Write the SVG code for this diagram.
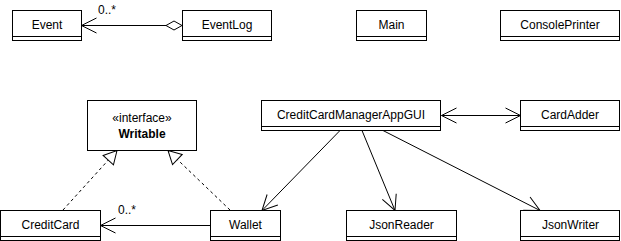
<svg xmlns="http://www.w3.org/2000/svg" width="621" height="241" viewBox="0 0 621 241">
  <style>
    .box { fill: #ffffff; stroke: #000000; stroke-width: 1; }
    .sep { stroke: #000000; stroke-width: 1; fill: none; }
    .lbl { font-family: "Liberation Sans", Arial, sans-serif; font-size: 12px; fill: #000000; text-anchor: middle; }
    .bold { font-weight: bold; }
    .mult { font-family: "Liberation Sans", Arial, sans-serif; font-size: 12px; fill: #000000; }
    .edge { stroke: #000000; stroke-width: 1; fill: none; }
    .dashed { stroke-dasharray: 3 3; }
  </style>
  <defs>
    <marker id="open" markerUnits="userSpaceOnUse" viewBox="-16 -9 18 18" markerWidth="18" markerHeight="18" refX="0" refY="0" orient="auto-start-reverse">
      <path d="M-15,-7.5 L0,0 L-15,7.5" fill="none" stroke="#000000" stroke-width="1"/>
    </marker>
    <marker id="hollow" markerUnits="userSpaceOnUse" viewBox="-15 -9 17 18" markerWidth="17" markerHeight="18" refX="0" refY="0" orient="auto">
      <path d="M-13,-7 L0,0 L-13,7 Z" fill="#ffffff" stroke="#000000" stroke-width="1"/>
    </marker>
  </defs>

  <!-- connectors -->
  <g id="connectors">
    <!-- EventLog aggregates Event -->
    <line class="edge" x1="166" y1="25.5" x2="81.5" y2="25.5" marker-end="url(#open)"/>
    <polygon points="182,25.5 174,21 166,25.5 174,30" fill="#ffffff" stroke="#000000" stroke-width="1"/>
    <text class="mult" x="98" y="14">0..*</text>

    <!-- realizations of Writable -->
    <line class="edge dashed" x1="63" y1="210" x2="117" y2="150.5" marker-end="url(#hollow)"/>
    <line class="edge dashed" x1="230" y1="210" x2="168" y2="150.5" marker-end="url(#hollow)"/>

    <!-- Wallet holds CreditCards -->
    <line class="edge" x1="210.5" y1="225.5" x2="100.5" y2="225.5" marker-end="url(#open)"/>
    <text class="mult" x="118" y="214">0..*</text>

    <!-- GUI <-> CardAdder -->
    <line class="edge" x1="441.5" y1="115.5" x2="520.5" y2="115.5" marker-start="url(#open)" marker-end="url(#open)"/>

    <!-- GUI dependencies -->
    <line class="edge" x1="340" y1="130.5" x2="262" y2="210.5" marker-end="url(#open)"/>
    <line class="edge" x1="362" y1="130.5" x2="395" y2="210.5" marker-end="url(#open)"/>
    <line class="edge" x1="383" y1="130.5" x2="540" y2="210.5" marker-end="url(#open)"/>
  </g>

  <!-- classes -->
  <g id="Event">
    <rect class="box" x="12.5" y="10.5" width="69" height="30"/>
    <line class="sep" x1="12.5" y1="36.5" x2="81.5" y2="36.5"/>
    <text class="lbl" x="47" y="29">Event</text>
  </g>
  <g id="EventLog">
    <rect class="box" x="182.5" y="10.5" width="89" height="30"/>
    <line class="sep" x1="182.5" y1="36.5" x2="271.5" y2="36.5"/>
    <text class="lbl" x="227" y="29">EventLog</text>
  </g>
  <g id="Main">
    <rect class="box" x="356.5" y="10.5" width="70" height="30"/>
    <line class="sep" x1="356.5" y1="36.5" x2="426.5" y2="36.5"/>
    <text class="lbl" x="391.5" y="29">Main</text>
  </g>
  <g id="ConsolePrinter">
    <rect class="box" x="500.5" y="10.5" width="119" height="30"/>
    <line class="sep" x1="500.5" y1="36.5" x2="619.5" y2="36.5"/>
    <text class="lbl" x="560" y="29">ConsolePrinter</text>
  </g>
  <g id="Writable">
    <rect class="box" x="87.5" y="100.5" width="109" height="50"/>
    <text class="lbl" x="142" y="122">«interface»</text>
    <text class="lbl bold" x="142" y="138">Writable</text>
  </g>
  <g id="CreditCardManagerAppGUI">
    <rect class="box" x="261.5" y="100.5" width="179" height="30"/>
    <line class="sep" x1="261.5" y1="126.5" x2="440.5" y2="126.5"/>
    <text class="lbl" x="351" y="119">CreditCardManagerAppGUI</text>
  </g>
  <g id="CardAdder">
    <rect class="box" x="520.5" y="100.5" width="99" height="30"/>
    <line class="sep" x1="520.5" y1="126.5" x2="619.5" y2="126.5"/>
    <text class="lbl" x="570" y="119">CardAdder</text>
  </g>
  <g id="CreditCard">
    <rect class="box" x="0.5" y="210.5" width="100" height="30"/>
    <line class="sep" x1="0.5" y1="236.5" x2="100.5" y2="236.5"/>
    <text class="lbl" x="50.5" y="229">CreditCard</text>
  </g>
  <g id="Wallet">
    <rect class="box" x="210.5" y="210.5" width="70" height="30"/>
    <line class="sep" x1="210.5" y1="236.5" x2="280.5" y2="236.5"/>
    <text class="lbl" x="245.5" y="229">Wallet</text>
  </g>
  <g id="JsonReader">
    <rect class="box" x="346.5" y="210.5" width="110" height="30"/>
    <line class="sep" x1="346.5" y1="236.5" x2="456.5" y2="236.5"/>
    <text class="lbl" x="401.5" y="229">JsonReader</text>
  </g>
  <g id="JsonWriter">
    <rect class="box" x="520.5" y="210.5" width="99" height="30"/>
    <line class="sep" x1="520.5" y1="236.5" x2="619.5" y2="236.5"/>
    <text class="lbl" x="570.5" y="229">JsonWriter</text>
  </g>
</svg>
